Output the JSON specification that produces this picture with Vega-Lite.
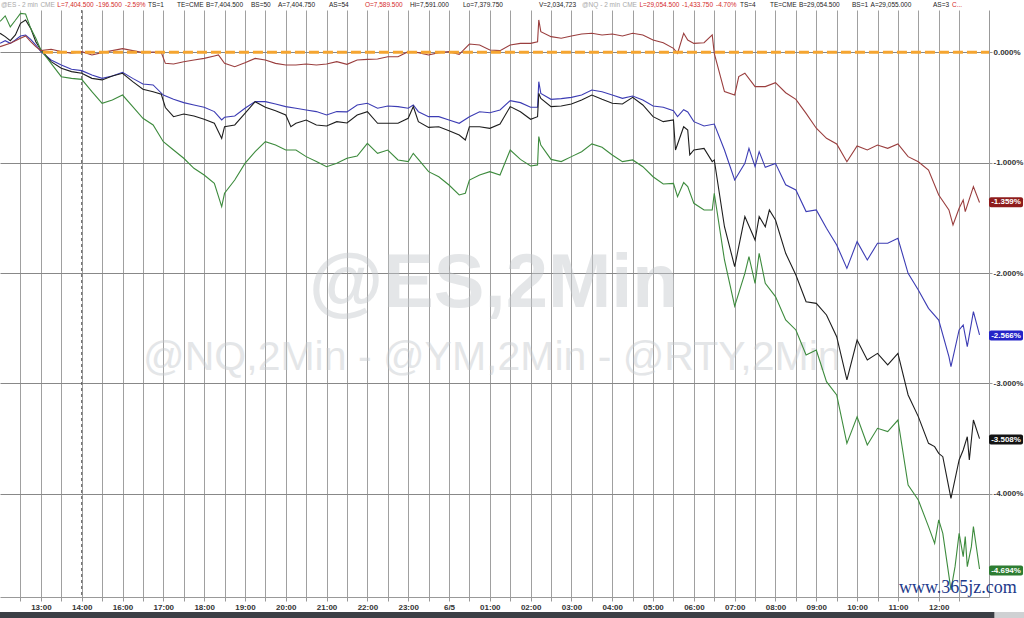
{
"$schema":"https://vega.github.io/schema/vega-lite/v6.json",
"width":989,"height":587,
"autosize":"none",
"padding":{"left":0,"top":10,"right":35,"bottom":21},
"background":"white",
"config":{"view":{"stroke":null},"text":{"font":"Liberation Sans"}},
"data":{"values":[{}]},
"resolve":{"axis":{"x":"independent","y":"independent"}},
"datasets":{
"lines":[
{"s":"ES","h":-1,"v":0.081},{"s":"ES","h":-0.875,"v":0.105},{"s":"ES","h":-0.75,"v":0.081},{"s":"ES","h":-0.625,"v":0.111},{"s":"ES","h":-0.5,"v":0.148},{"s":"ES","h":-0.375,"v":0.157},{"s":"ES","h":-0.25,"v":0.118},{"s":"ES","h":-0.125,"v":0.066},{"s":"ES","h":0,"v":0.006},{"s":"ES","h":0.25,"v":-0.07},{"s":"ES","h":0.5,"v":-0.115},{"s":"ES","h":0.75,"v":-0.154},{"s":"ES","h":1,"v":-0.166},{"s":"ES","h":1.25,"v":-0.206},{"s":"ES","h":1.5,"v":-0.236},{"s":"ES","h":1.75,"v":-0.215},{"s":"ES","h":2,"v":-0.181},{"s":"ES","h":2.25,"v":-0.236},{"s":"ES","h":2.5,"v":-0.287},{"s":"ES","h":2.75,"v":-0.296},{"s":"ES","h":3,"v":-0.387},{"s":"ES","h":3.25,"v":-0.426},{"s":"ES","h":3.5,"v":-0.456},{"s":"ES","h":3.75,"v":-0.477},{"s":"ES","h":4,"v":-0.498},{"s":"ES","h":4.25,"v":-0.537},{"s":"ES","h":4.43,"v":-0.613},{"s":"ES","h":4.5,"v":-0.589},{"s":"ES","h":4.75,"v":-0.577},{"s":"ES","h":5,"v":-0.507},{"s":"ES","h":5.25,"v":-0.447},{"s":"ES","h":5.5,"v":-0.447},{"s":"ES","h":5.75,"v":-0.468},{"s":"ES","h":6,"v":-0.492},{"s":"ES","h":6.25,"v":-0.507},{"s":"ES","h":6.5,"v":-0.522},{"s":"ES","h":6.75,"v":-0.537},{"s":"ES","h":7,"v":-0.568},{"s":"ES","h":7.25,"v":-0.537},{"s":"ES","h":7.5,"v":-0.54},{"s":"ES","h":7.75,"v":-0.477},{"s":"ES","h":8,"v":-0.462},{"s":"ES","h":8.25,"v":-0.507},{"s":"ES","h":8.5,"v":-0.486},{"s":"ES","h":8.75,"v":-0.492},{"s":"ES","h":9,"v":-0.507},{"s":"ES","h":9.125,"v":-0.477},{"s":"ES","h":9.25,"v":-0.538},{"s":"ES","h":9.5,"v":-0.583},{"s":"ES","h":9.75,"v":-0.583},{"s":"ES","h":10,"v":-0.613},{"s":"ES","h":10.25,"v":-0.643},{"s":"ES","h":10.5,"v":-0.583},{"s":"ES","h":10.75,"v":-0.538},{"s":"ES","h":11,"v":-0.547},{"s":"ES","h":11.25,"v":-0.522},{"s":"ES","h":11.5,"v":-0.438},{"s":"ES","h":11.75,"v":-0.456},{"s":"ES","h":12,"v":-0.498},{"s":"ES","h":12.17,"v":-0.498},{"s":"ES","h":12.2,"v":-0.266},{"s":"ES","h":12.25,"v":-0.372},{"s":"ES","h":12.5,"v":-0.426},{"s":"ES","h":12.75,"v":-0.42},{"s":"ES","h":13,"v":-0.408},{"s":"ES","h":13.25,"v":-0.387},{"s":"ES","h":13.5,"v":-0.341},{"s":"ES","h":13.75,"v":-0.357},{"s":"ES","h":14,"v":-0.387},{"s":"ES","h":14.25,"v":-0.417},{"s":"ES","h":14.5,"v":-0.396},{"s":"ES","h":14.75,"v":-0.432},{"s":"ES","h":15,"v":-0.486},{"s":"ES","h":15.25,"v":-0.498},{"s":"ES","h":15.5,"v":-0.529},{"s":"ES","h":15.6,"v":-0.583},{"s":"ES","h":15.75,"v":-0.52},{"s":"ES","h":15.85,"v":-0.54},{"s":"ES","h":16,"v":-0.628},{"s":"ES","h":16.25,"v":-0.667},{"s":"ES","h":16.5,"v":-0.65},{"s":"ES","h":16.75,"v":-0.885},{"s":"ES","h":17,"v":-1.157},{"s":"ES","h":17.25,"v":-1.006},{"s":"ES","h":17.35,"v":-0.87},{"s":"ES","h":17.5,"v":-1.036},{"s":"ES","h":17.6,"v":-0.9},{"s":"ES","h":17.75,"v":-1.042},{"s":"ES","h":18,"v":-1.006},{"s":"ES","h":18.25,"v":-1.2},{"s":"ES","h":18.5,"v":-1.247},{"s":"ES","h":18.75,"v":-1.443},{"s":"ES","h":19,"v":-1.428},{"s":"ES","h":19.25,"v":-1.594},{"s":"ES","h":19.5,"v":-1.745},{"s":"ES","h":19.75,"v":-1.957},{"s":"ES","h":20,"v":-1.715},{"s":"ES","h":20.25,"v":-1.881},{"s":"ES","h":20.5,"v":-1.73},{"s":"ES","h":20.75,"v":-1.73},{"s":"ES","h":21,"v":-1.685},{"s":"ES","h":21.25,"v":-2.002},{"s":"ES","h":21.5,"v":-2.153},{"s":"ES","h":21.75,"v":-2.319},{"s":"ES","h":22,"v":-2.425},{"s":"ES","h":22.25,"v":-2.757},{"s":"ES","h":22.3,"v":-2.847},{"s":"ES","h":22.5,"v":-2.515},{"s":"ES","h":22.6,"v":-2.47},{"s":"ES","h":22.7,"v":-2.666},{"s":"ES","h":22.8,"v":-2.455},{"s":"ES","h":22.85,"v":-2.349},{"s":"ES","h":23,"v":-2.56},
{"s":"RTY","h":-1,"v":0.172},{"s":"RTY","h":-0.875,"v":0.142},{"s":"RTY","h":-0.75,"v":0.105},{"s":"RTY","h":-0.625,"v":0.157},{"s":"RTY","h":-0.5,"v":0.262},{"s":"RTY","h":-0.375,"v":0.293},{"s":"RTY","h":-0.25,"v":0.217},{"s":"RTY","h":-0.125,"v":0.096},{"s":"RTY","h":0,"v":0.021},{"s":"RTY","h":0.25,"v":-0.085},{"s":"RTY","h":0.5,"v":-0.145},{"s":"RTY","h":0.75,"v":-0.175},{"s":"RTY","h":1,"v":-0.19},{"s":"RTY","h":1.25,"v":-0.236},{"s":"RTY","h":1.5,"v":-0.25},{"s":"RTY","h":1.75,"v":-0.215},{"s":"RTY","h":2,"v":-0.19},{"s":"RTY","h":2.25,"v":-0.266},{"s":"RTY","h":2.5,"v":-0.335},{"s":"RTY","h":2.75,"v":-0.357},{"s":"RTY","h":2.95,"v":-0.38},{"s":"RTY","h":3.05,"v":-0.5},{"s":"RTY","h":3.25,"v":-0.583},{"s":"RTY","h":3.5,"v":-0.559},{"s":"RTY","h":3.75,"v":-0.577},{"s":"RTY","h":4,"v":-0.607},{"s":"RTY","h":4.25,"v":-0.643},{"s":"RTY","h":4.43,"v":-0.78},{"s":"RTY","h":4.5,"v":-0.674},{"s":"RTY","h":4.75,"v":-0.658},{"s":"RTY","h":5,"v":-0.553},{"s":"RTY","h":5.25,"v":-0.447},{"s":"RTY","h":5.5,"v":-0.498},{"s":"RTY","h":5.75,"v":-0.529},{"s":"RTY","h":6,"v":-0.568},{"s":"RTY","h":6.125,"v":-0.674},{"s":"RTY","h":6.25,"v":-0.643},{"s":"RTY","h":6.5,"v":-0.613},{"s":"RTY","h":6.75,"v":-0.658},{"s":"RTY","h":7,"v":-0.667},{"s":"RTY","h":7.25,"v":-0.628},{"s":"RTY","h":7.5,"v":-0.64},{"s":"RTY","h":7.75,"v":-0.568},{"s":"RTY","h":8,"v":-0.538},{"s":"RTY","h":8.25,"v":-0.643},{"s":"RTY","h":8.5,"v":-0.643},{"s":"RTY","h":8.75,"v":-0.643},{"s":"RTY","h":9,"v":-0.598},{"s":"RTY","h":9.125,"v":-0.492},{"s":"RTY","h":9.25,"v":-0.628},{"s":"RTY","h":9.5,"v":-0.68},{"s":"RTY","h":9.75,"v":-0.674},{"s":"RTY","h":10,"v":-0.71},{"s":"RTY","h":10.25,"v":-0.749},{"s":"RTY","h":10.4,"v":-0.794},{"s":"RTY","h":10.5,"v":-0.674},{"s":"RTY","h":10.75,"v":-0.674},{"s":"RTY","h":11,"v":-0.689},{"s":"RTY","h":11.25,"v":-0.65},{"s":"RTY","h":11.5,"v":-0.492},{"s":"RTY","h":11.75,"v":-0.538},{"s":"RTY","h":12,"v":-0.607},{"s":"RTY","h":12.17,"v":-0.583},{"s":"RTY","h":12.2,"v":-0.372},{"s":"RTY","h":12.25,"v":-0.417},{"s":"RTY","h":12.5,"v":-0.492},{"s":"RTY","h":12.75,"v":-0.486},{"s":"RTY","h":13,"v":-0.468},{"s":"RTY","h":13.25,"v":-0.432},{"s":"RTY","h":13.5,"v":-0.387},{"s":"RTY","h":13.75,"v":-0.426},{"s":"RTY","h":14,"v":-0.462},{"s":"RTY","h":14.25,"v":-0.468},{"s":"RTY","h":14.5,"v":-0.408},{"s":"RTY","h":14.75,"v":-0.477},{"s":"RTY","h":15,"v":-0.583},{"s":"RTY","h":15.25,"v":-0.628},{"s":"RTY","h":15.5,"v":-0.613},{"s":"RTY","h":15.55,"v":-0.885},{"s":"RTY","h":15.75,"v":-0.674},{"s":"RTY","h":15.85,"v":-0.705},{"s":"RTY","h":15.9,"v":-0.93},{"s":"RTY","h":16,"v":-0.885},{"s":"RTY","h":16.25,"v":-0.87},{"s":"RTY","h":16.45,"v":-0.99},{"s":"RTY","h":16.5,"v":-0.975},{"s":"RTY","h":16.75,"v":-1.58},{"s":"RTY","h":17,"v":-1.941},{"s":"RTY","h":17.25,"v":-1.488},{"s":"RTY","h":17.5,"v":-1.7},{"s":"RTY","h":17.6,"v":-1.488},{"s":"RTY","h":17.75,"v":-1.58},{"s":"RTY","h":17.85,"v":-1.428},{"s":"RTY","h":18,"v":-1.519},{"s":"RTY","h":18.25,"v":-1.821},{"s":"RTY","h":18.5,"v":-2.017},{"s":"RTY","h":18.75,"v":-2.259},{"s":"RTY","h":19,"v":-2.274},{"s":"RTY","h":19.25,"v":-2.379},{"s":"RTY","h":19.5,"v":-2.576},{"s":"RTY","h":19.75,"v":-2.968},{"s":"RTY","h":20,"v":-2.606},{"s":"RTY","h":20.25,"v":-2.787},{"s":"RTY","h":20.5,"v":-2.727},{"s":"RTY","h":20.75,"v":-2.832},{"s":"RTY","h":21,"v":-2.727},{"s":"RTY","h":21.25,"v":-3.104},{"s":"RTY","h":21.5,"v":-3.3},{"s":"RTY","h":21.75,"v":-3.542},{"s":"RTY","h":21.9,"v":-3.572},{"s":"RTY","h":22,"v":-3.633},{"s":"RTY","h":22.1,"v":-3.663},{"s":"RTY","h":22.3,"v":-4.04},{"s":"RTY","h":22.5,"v":-3.693},{"s":"RTY","h":22.6,"v":-3.602},{"s":"RTY","h":22.7,"v":-3.482},{"s":"RTY","h":22.75,"v":-3.693},{"s":"RTY","h":22.85,"v":-3.331},{"s":"RTY","h":23,"v":-3.5},
{"s":"NQ","h":-1,"v":0.28},{"s":"NQ","h":-0.875,"v":0.33},{"s":"NQ","h":-0.75,"v":0.23},{"s":"NQ","h":-0.625,"v":0.29},{"s":"NQ","h":-0.5,"v":0.353},{"s":"NQ","h":-0.375,"v":0.347},{"s":"NQ","h":-0.25,"v":0.217},{"s":"NQ","h":-0.125,"v":0.127},{"s":"NQ","h":0,"v":0.021},{"s":"NQ","h":0.25,"v":-0.1},{"s":"NQ","h":0.5,"v":-0.221},{"s":"NQ","h":0.75,"v":-0.236},{"s":"NQ","h":1,"v":-0.245},{"s":"NQ","h":1.25,"v":-0.357},{"s":"NQ","h":1.5,"v":-0.462},{"s":"NQ","h":1.75,"v":-0.432},{"s":"NQ","h":2,"v":-0.387},{"s":"NQ","h":2.25,"v":-0.493},{"s":"NQ","h":2.5,"v":-0.598},{"s":"NQ","h":2.75,"v":-0.658},{"s":"NQ","h":3,"v":-0.81},{"s":"NQ","h":3.25,"v":-0.885},{"s":"NQ","h":3.5,"v":-0.96},{"s":"NQ","h":3.75,"v":-1.051},{"s":"NQ","h":4,"v":-1.111},{"s":"NQ","h":4.25,"v":-1.187},{"s":"NQ","h":4.43,"v":-1.398},{"s":"NQ","h":4.5,"v":-1.277},{"s":"NQ","h":4.75,"v":-1.157},{"s":"NQ","h":5,"v":-1.006},{"s":"NQ","h":5.25,"v":-0.9},{"s":"NQ","h":5.5,"v":-0.81},{"s":"NQ","h":5.75,"v":-0.84},{"s":"NQ","h":6,"v":-0.885},{"s":"NQ","h":6.25,"v":-0.885},{"s":"NQ","h":6.5,"v":-0.945},{"s":"NQ","h":6.75,"v":-0.99},{"s":"NQ","h":7,"v":-1.036},{"s":"NQ","h":7.25,"v":-1.006},{"s":"NQ","h":7.5,"v":-0.96},{"s":"NQ","h":7.75,"v":-0.94},{"s":"NQ","h":8,"v":-0.825},{"s":"NQ","h":8.25,"v":-0.915},{"s":"NQ","h":8.5,"v":-0.885},{"s":"NQ","h":8.75,"v":-0.975},{"s":"NQ","h":9,"v":-0.99},{"s":"NQ","h":9.125,"v":-0.915},{"s":"NQ","h":9.25,"v":-0.97},{"s":"NQ","h":9.5,"v":-1.081},{"s":"NQ","h":9.75,"v":-1.127},{"s":"NQ","h":10,"v":-1.202},{"s":"NQ","h":10.25,"v":-1.292},{"s":"NQ","h":10.4,"v":-1.277},{"s":"NQ","h":10.5,"v":-1.157},{"s":"NQ","h":10.75,"v":-1.111},{"s":"NQ","h":11,"v":-1.081},{"s":"NQ","h":11.25,"v":-1.111},{"s":"NQ","h":11.5,"v":-0.885},{"s":"NQ","h":11.75,"v":-0.97},{"s":"NQ","h":12,"v":-1.03},{"s":"NQ","h":12.17,"v":-1.02},{"s":"NQ","h":12.2,"v":-0.764},{"s":"NQ","h":12.25,"v":-0.84},{"s":"NQ","h":12.5,"v":-0.97},{"s":"NQ","h":12.75,"v":-0.99},{"s":"NQ","h":13,"v":-0.945},{"s":"NQ","h":13.25,"v":-0.9},{"s":"NQ","h":13.5,"v":-0.83},{"s":"NQ","h":13.75,"v":-0.86},{"s":"NQ","h":14,"v":-0.93},{"s":"NQ","h":14.25,"v":-0.99},{"s":"NQ","h":14.5,"v":-0.975},{"s":"NQ","h":14.75,"v":-1.036},{"s":"NQ","h":15,"v":-1.127},{"s":"NQ","h":15.25,"v":-1.193},{"s":"NQ","h":15.5,"v":-1.187},{"s":"NQ","h":15.6,"v":-1.308},{"s":"NQ","h":15.75,"v":-1.18},{"s":"NQ","h":15.85,"v":-1.217},{"s":"NQ","h":16,"v":-1.368},{"s":"NQ","h":16.25,"v":-1.428},{"s":"NQ","h":16.45,"v":-1.428},{"s":"NQ","h":16.5,"v":-1.277},{"s":"NQ","h":16.75,"v":-1.881},{"s":"NQ","h":17,"v":-2.3},{"s":"NQ","h":17.25,"v":-2.002},{"s":"NQ","h":17.35,"v":-1.851},{"s":"NQ","h":17.5,"v":-2.093},{"s":"NQ","h":17.6,"v":-1.821},{"s":"NQ","h":17.75,"v":-2.093},{"s":"NQ","h":18,"v":-2.213},{"s":"NQ","h":18.25,"v":-2.425},{"s":"NQ","h":18.5,"v":-2.515},{"s":"NQ","h":18.75,"v":-2.742},{"s":"NQ","h":19,"v":-2.697},{"s":"NQ","h":19.25,"v":-2.983},{"s":"NQ","h":19.5,"v":-3.104},{"s":"NQ","h":19.75,"v":-3.542},{"s":"NQ","h":20,"v":-3.301},{"s":"NQ","h":20.25,"v":-3.557},{"s":"NQ","h":20.5,"v":-3.406},{"s":"NQ","h":20.75,"v":-3.436},{"s":"NQ","h":21,"v":-3.331},{"s":"NQ","h":21.25,"v":-3.92},{"s":"NQ","h":21.5,"v":-4.055},{"s":"NQ","h":21.75,"v":-4.297},{"s":"NQ","h":21.9,"v":-4.448},{"s":"NQ","h":22,"v":-4.236},{"s":"NQ","h":22.1,"v":-4.357},{"s":"NQ","h":22.3,"v":-4.87},{"s":"NQ","h":22.4,"v":-4.659},{"s":"NQ","h":22.5,"v":-4.357},{"s":"NQ","h":22.6,"v":-4.569},{"s":"NQ","h":22.65,"v":-4.387},{"s":"NQ","h":22.7,"v":-4.659},{"s":"NQ","h":22.8,"v":-4.478},{"s":"NQ","h":22.85,"v":-4.297},{"s":"NQ","h":23,"v":-4.68},
{"s":"YM","h":-1,"v":0.051},{"s":"YM","h":-0.75,"v":0.081},{"s":"YM","h":-0.5,"v":0.127},{"s":"YM","h":-0.375,"v":0.148},{"s":"YM","h":-0.25,"v":0.096},{"s":"YM","h":-0.125,"v":0.051},{"s":"YM","h":0,"v":0.015},{"s":"YM","h":0.25,"v":0.027},{"s":"YM","h":0.5,"v":0.006},{"s":"YM","h":0.75,"v":-0.009},{"s":"YM","h":1,"v":0.006},{"s":"YM","h":1.25,"v":-0.024},{"s":"YM","h":1.5,"v":-0.003},{"s":"YM","h":1.75,"v":0.015},{"s":"YM","h":2,"v":0.033},{"s":"YM","h":2.25,"v":0.015},{"s":"YM","h":2.5,"v":-0.003},{"s":"YM","h":2.75,"v":0.003},{"s":"YM","h":2.95,"v":-0.003},{"s":"YM","h":3.05,"v":-0.1},{"s":"YM","h":3.25,"v":-0.106},{"s":"YM","h":3.5,"v":-0.085},{"s":"YM","h":3.75,"v":-0.07},{"s":"YM","h":4,"v":-0.055},{"s":"YM","h":4.25,"v":-0.033},{"s":"YM","h":4.35,"v":-0.024},{"s":"YM","h":4.5,"v":-0.1},{"s":"YM","h":4.75,"v":-0.13},{"s":"YM","h":5,"v":-0.094},{"s":"YM","h":5.25,"v":-0.055},{"s":"YM","h":5.5,"v":-0.07},{"s":"YM","h":5.75,"v":-0.1},{"s":"YM","h":6,"v":-0.115},{"s":"YM","h":6.25,"v":-0.115},{"s":"YM","h":6.5,"v":-0.106},{"s":"YM","h":6.75,"v":-0.115},{"s":"YM","h":7,"v":-0.106},{"s":"YM","h":7.25,"v":-0.085},{"s":"YM","h":7.5,"v":-0.109},{"s":"YM","h":7.75,"v":-0.07},{"s":"YM","h":8,"v":-0.064},{"s":"YM","h":8.25,"v":-0.061},{"s":"YM","h":8.5,"v":-0.04},{"s":"YM","h":8.75,"v":-0.04},{"s":"YM","h":9,"v":0.006},{"s":"YM","h":9.25,"v":-0.003},{"s":"YM","h":9.5,"v":-0.024},{"s":"YM","h":9.75,"v":-0.003},{"s":"YM","h":10,"v":0.006},{"s":"YM","h":10.25,"v":-0.018},{"s":"YM","h":10.5,"v":0.075},{"s":"YM","h":10.75,"v":0.066},{"s":"YM","h":11,"v":0.021},{"s":"YM","h":11.25,"v":0.015},{"s":"YM","h":11.5,"v":0.066},{"s":"YM","h":11.75,"v":0.081},{"s":"YM","h":12,"v":0.081},{"s":"YM","h":12.17,"v":0.096},{"s":"YM","h":12.2,"v":0.293},{"s":"YM","h":12.25,"v":0.187},{"s":"YM","h":12.5,"v":0.142},{"s":"YM","h":12.75,"v":0.127},{"s":"YM","h":13,"v":0.148},{"s":"YM","h":13.25,"v":0.166},{"s":"YM","h":13.5,"v":0.172},{"s":"YM","h":13.75,"v":0.157},{"s":"YM","h":14,"v":0.166},{"s":"YM","h":14.25,"v":0.148},{"s":"YM","h":14.5,"v":0.172},{"s":"YM","h":14.75,"v":0.157},{"s":"YM","h":15,"v":0.111},{"s":"YM","h":15.25,"v":0.087},{"s":"YM","h":15.5,"v":0.036},{"s":"YM","h":15.6,"v":-0.009},{"s":"YM","h":15.75,"v":0.172},{"s":"YM","h":15.85,"v":0.111},{"s":"YM","h":16,"v":0.081},{"s":"YM","h":16.25,"v":0.087},{"s":"YM","h":16.45,"v":0.157},{"s":"YM","h":16.5,"v":-0.009},{"s":"YM","h":16.75,"v":-0.356},{"s":"YM","h":17,"v":-0.387},{"s":"YM","h":17.1,"v":-0.22},{"s":"YM","h":17.25,"v":-0.19},{"s":"YM","h":17.5,"v":-0.311},{"s":"YM","h":17.75,"v":-0.311},{"s":"YM","h":18,"v":-0.275},{"s":"YM","h":18.25,"v":-0.366},{"s":"YM","h":18.5,"v":-0.426},{"s":"YM","h":18.75,"v":-0.553},{"s":"YM","h":19,"v":-0.688},{"s":"YM","h":19.25,"v":-0.779},{"s":"YM","h":19.5,"v":-0.83},{"s":"YM","h":19.75,"v":-0.991},{"s":"YM","h":20,"v":-0.849},{"s":"YM","h":20.25,"v":-0.885},{"s":"YM","h":20.5,"v":-0.84},{"s":"YM","h":20.75,"v":-0.87},{"s":"YM","h":21,"v":-0.83},{"s":"YM","h":21.25,"v":-0.945},{"s":"YM","h":21.5,"v":-0.991},{"s":"YM","h":21.75,"v":-1.066},{"s":"YM","h":22,"v":-1.293},{"s":"YM","h":22.25,"v":-1.428},{"s":"YM","h":22.35,"v":-1.564},{"s":"YM","h":22.5,"v":-1.413},{"s":"YM","h":22.6,"v":-1.338},{"s":"YM","h":22.65,"v":-1.443},{"s":"YM","h":22.85,"v":-1.217},{"s":"YM","h":23,"v":-1.36}
],
"badges":[
{"s":"YM","v":-1.359,"lab":"-1.359%"},
{"s":"ES","v":-2.566,"lab":"-2.566%"},
{"s":"RTY","v":-3.508,"lab":"-3.508%"},
{"s":"NQ","v":-4.694,"lab":"-4.694%"}
],
"header":[
{"h":-0.978,"t":"@ES - 2 min","k":"hg"},
{"h":-0.012,"t":"CME","k":"hg"},
{"h":0.402,"t":"L=7,404.500","k":"hr"},
{"h":1.353,"t":"-196.500","k":"hr"},
{"h":2.061,"t":"-2.59%","k":"hr"},
{"h":2.627,"t":"TS=1","k":"hb"},
{"h":3.335,"t":"TE=CME","k":"hb"},
{"h":4.046,"t":"B=7,404.500","k":"hb"},
{"h":5.148,"t":"BS=50","k":"hb"},
{"h":5.81,"t":"A=7,404.750","k":"hb"},
{"h":7.06,"t":"AS=54","k":"hb"},
{"h":7.94,"t":"O=7,589.500","k":"hr"},
{"h":9.044,"t":"Hi=7,591.000","k":"hb"},
{"h":10.343,"t":"Lo=7,379.750","k":"hb"},
{"h":12.205,"t":"V=2,034,723","k":"hb"},
{"h":13.259,"t":"@NQ - 2 min","k":"hg"},
{"h":14.251,"t":"CME","k":"hg"},
{"h":14.666,"t":"L=29,054.500","k":"hr"},
{"h":15.709,"t":"-1,433.750","k":"hr"},
{"h":16.542,"t":"-4.70%","k":"hr"},
{"h":17.13,"t":"TS=4","k":"hb"},
{"h":17.865,"t":"TE=CME","k":"hb"},
{"h":18.576,"t":"B=29,054.500","k":"hb"},
{"h":19.875,"t":"BS=1","k":"hb"},
{"h":20.331,"t":"A=29,055.000","k":"hb"},
{"h":21.86,"t":"AS=3","k":"hb"},
{"h":22.325,"t":"C...","k":"hr"}
]
},
"layer":[
{"mark":{"type":"rect","color":"#3b3f45"},
 "encoding":{"x":{"datum":-1.0022,"type":"quantitative","axis":null},"x2":{"datum":23.37},"y":{"datum":-5.07,"type":"quantitative","axis":null},"y2":{"datum":-5.25}}},
{"mark":{"type":"rect","color":"#cfd1d3"},
 "encoding":{"x":{"datum":23.37,"type":"quantitative","axis":null},"x2":{"datum":24.2},"y":{"datum":-5.07,"type":"quantitative","axis":null},"y2":{"datum":-5.25}}},
{"mark":{"type":"text","text":"@ES,2Min","font":"Liberation Sans","fontSize":76,"fontWeight":"bold","color":"#c5c9cd","opacity":0.45,"align":"center","baseline":"alphabetic"},
 "encoding":{"x":{"datum":11.1,"type":"quantitative","axis":null},"y":{"datum":-2.307,"type":"quantitative","axis":null}}},
{"mark":{"type":"text","text":"@NQ,2Min - @YM,2Min - @RTY,2Min","font":"Liberation Sans","fontSize":41,"color":"#c5c9cd","opacity":0.45,"align":"center","baseline":"alphabetic"},
 "encoding":{"x":{"datum":11.05,"type":"quantitative","axis":null},"y":{"datum":-2.878,"type":"quantitative","axis":null}}},
{"mark":{"type":"rule","color":"#555555","strokeDash":[3,3],"strokeWidth":1},
 "encoding":{"x":{"datum":1,"type":"quantitative","axis":null}}},
{"data":{"name":"lines"},
 "mark":{"type":"line","strokeWidth":1.1,"interpolate":"linear"},
 "encoding":{
  "x":{"field":"h","type":"quantitative","scale":{"domain":[-1.0022,23.232],"nice":false,"zero":false},
   "axis":{"title":null,"values":[-0.5,0,0.5,1,1.5,2,2.5,3,3.5,4,4.5,5,5.5,6,6.5,7,7.5,8,8.5,9,9.5,10,10.5,11,11.5,12,12.5,13,13.5,14,14.5,15,15.5,16,16.5,17,17.5,18,18.5,19,19.5,20,20.5,21,21.5,22,22.5],
    "labelExpr":"datum.value == 0 ? '13:00' : datum.value == 1 ? '14:00' : datum.value == 2 ? '16:00' : datum.value == 3 ? '17:00' : datum.value == 4 ? '18:00' : datum.value == 5 ? '19:00' : datum.value == 6 ? '20:00' : datum.value == 7 ? '21:00' : datum.value == 8 ? '22:00' : datum.value == 9 ? '23:00' : datum.value == 10 ? '6/5' : datum.value == 11 ? '01:00' : datum.value == 12 ? '02:00' : datum.value == 13 ? '03:00' : datum.value == 14 ? '04:00' : datum.value == 15 ? '05:00' : datum.value == 16 ? '06:00' : datum.value == 17 ? '07:00' : datum.value == 18 ? '08:00' : datum.value == 19 ? '09:00' : datum.value == 20 ? '10:00' : datum.value == 21 ? '11:00' : datum.value == 22 ? '12:00' : ''",
    "grid":true,"gridColor":"#a0a0a0","gridWidth":1,"domainColor":"#999999","tickColor":"#999999","tickSize":4,
    "labelFont":"Liberation Sans","labelFontSize":8,"labelFontWeight":"bold","labelColor":"#333333","labelPadding":2,"labelFlush":false,"labelOverlap":false}},
  "y":{"field":"v","type":"quantitative","scale":{"domain":[-4.934,0.3832],"nice":false,"zero":false},
   "axis":{"title":null,"orient":"right","values":[0,-1,-2,-3,-4],"labelExpr":"datum.value + '.000%'",
    "grid":true,"gridColor":"#888888","gridWidth":1,"domainColor":"#999999","tickColor":"#999999","tickSize":3,
    "labelFont":"Liberation Sans","labelFontSize":8,"labelFontWeight":"bold","labelColor":"#333333","labelPadding":1}},
  "color":{"field":"s","type":"nominal","legend":null,
   "scale":{"domain":["ES","NQ","YM","RTY","hg","hr","hb"],"range":["#3c3cb4","#3d8b3d","#9a3e3e","#1e1e1e","#a8a8a8","#d42a2a","#222222"]}}
 }},
{"mark":{"type":"rule","color":"#f5a530","strokeWidth":3,"strokeDash":[10,4]},
 "encoding":{"x":{"datum":0.05,"type":"quantitative","axis":null},"x2":{"datum":23.232},"y":{"datum":0,"type":"quantitative","axis":null}}},
{"data":{"name":"badges"},
 "mark":{"type":"tick","orient":"horizontal","size":34,"thickness":10,"cornerRadius":2,"opacity":1},
 "encoding":{"x":{"datum":23.649,"type":"quantitative","axis":null},"y":{"field":"v","type":"quantitative","axis":null},
  "fill":{"field":"s","type":"nominal","legend":null,"scale":{"domain":["ES","NQ","YM","RTY"],"range":["#2424c8","#2e7d32","#8e1c1c","#141414"]}}}},
{"data":{"name":"badges"},
 "mark":{"type":"text","color":"white","fontSize":8,"fontWeight":"bold","font":"Liberation Sans","align":"center","baseline":"middle"},
 "encoding":{"x":{"datum":23.649,"type":"quantitative","axis":null},"y":{"field":"v","type":"quantitative","axis":null},"text":{"field":"lab"}}},
{"data":{"name":"header"},
 "mark":{"type":"text","fontSize":6.5,"font":"Liberation Sans","align":"left","baseline":"middle"},
 "encoding":{"x":{"field":"h","type":"quantitative","axis":null},"y":{"datum":0.433,"type":"quantitative","axis":null},"text":{"field":"t"},"color":{"field":"k","type":"nominal","legend":null}}},
{"mark":{"type":"text","text":"www.365jz.com","font":"Liberation Serif","fontSize":18,"color":"#1e3a8a","align":"center","baseline":"alphabetic"},
 "encoding":{"x":{"datum":22.47,"type":"quantitative","axis":null},"y":{"datum":-4.9,"type":"quantitative","axis":null}}}
]
}
